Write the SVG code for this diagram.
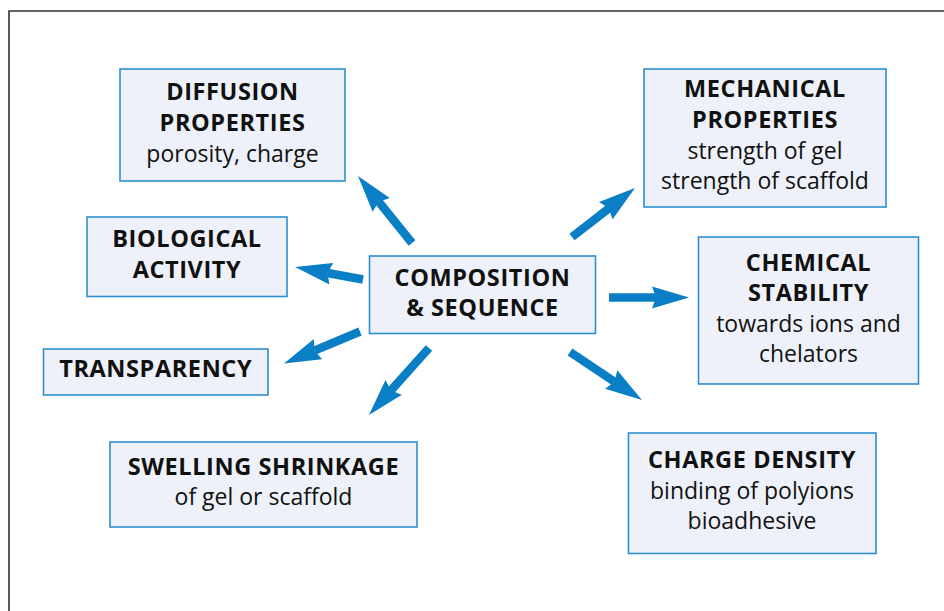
<svg xmlns="http://www.w3.org/2000/svg" width="944" height="611" viewBox="0 0 944 611">
<defs>
<marker id="ah" markerUnits="userSpaceOnUse" viewBox="0 -12 38 24" markerWidth="38" markerHeight="24" refX="4" refY="0" orient="auto">
<path d="M0,-11 L37,0 L0,11 L4,0 Z" fill="#0a7fc6"/>
</marker>
</defs>
<style>
.box{fill:#eef1f9;stroke:#2f8fd0;stroke-width:1.6}
.b{font-family:"Open Sans","DejaVu Sans",sans-serif;font-weight:700;font-size:23.5px;letter-spacing:0.6px;fill:#111;text-anchor:middle}
.r{font-family:"Open Sans","DejaVu Sans",sans-serif;font-weight:400;font-size:23px;fill:#111;text-anchor:middle}
.ar{stroke:#0a7fc6;stroke-width:8.5;fill:none;marker-end:url(#ah)}
</style>
<rect width="944" height="611" fill="#fff"/>
<path d="M9,620 L9,11 L950,11" fill="none" stroke="#333" stroke-width="1.6"/>
<g id="connectors">
<line class="ar" x1="412" y1="243" x2="378.7" y2="201.7"/>
<line class="ar" x1="572" y1="237" x2="608.9" y2="208.3"/>
<line class="ar" x1="609" y1="297.5" x2="656" y2="297.5"/>
<line class="ar" x1="570" y1="352" x2="614.5" y2="381.7"/>
<line class="ar" x1="429" y1="348" x2="391" y2="390.4"/>
<line class="ar" x1="363" y1="279.5" x2="327.5" y2="273"/>
<line class="ar" x1="360" y1="331.5" x2="314.4" y2="350.7"/>
</g>
<g id="diffusion">
<rect class="box" x="120" y="69" width="225" height="112"/>
<text class="b" x="232.5" y="100">DIFFUSION</text>
<text class="b" x="232.5" y="131">PROPERTIES</text>
<text class="r" x="232.5" y="162">porosity, charge</text>
</g>
<g id="biological">
<rect class="box" x="87" y="217" width="200" height="79.5"/>
<text class="b" x="187" y="246.5">BIOLOGICAL</text>
<text class="b" x="187" y="277.5">ACTIVITY</text>
</g>
<g id="transparency">
<rect class="box" x="43.5" y="349" width="224.5" height="46"/>
<text class="b" x="155.7" y="376.7">TRANSPARENCY</text>
</g>
<g id="composition">
<rect class="box" x="369.5" y="256" width="226" height="77.5"/>
<text class="b" x="482.5" y="286">COMPOSITION</text>
<text class="b" x="482.5" y="316">&amp; SEQUENCE</text>
</g>
<g id="swelling">
<rect class="box" x="110" y="442" width="307" height="85"/>
<text class="b" x="263.5" y="475">SWELLING SHRINKAGE</text>
<text class="r" x="263.5" y="505">of gel or scaffold</text>
</g>
<g id="mechanical">
<rect class="box" x="644" y="69" width="242" height="138"/>
<text class="b" x="765" y="97.3">MECHANICAL</text>
<text class="b" x="765" y="128.3">PROPERTIES</text>
<text class="r" x="765" y="159.3">strength of gel</text>
<text class="r" x="765" y="189.3">strength of scaffold</text>
</g>
<g id="chemical">
<rect class="box" x="698.5" y="237" width="220" height="147"/>
<text class="b" x="808.5" y="270.7">CHEMICAL</text>
<text class="b" x="808.5" y="300.7">STABILITY</text>
<text class="r" x="808.5" y="331.7">towards ions and</text>
<text class="r" x="808.5" y="361.7">chelators</text>
</g>
<g id="charge">
<rect class="box" x="628.5" y="433" width="247.5" height="120.5"/>
<text class="b" x="752" y="468.3">CHARGE DENSITY</text>
<text class="r" x="752" y="499.3">binding of polyions</text>
<text class="r" x="752" y="529.3">bioadhesive</text>
</g>
</svg>
